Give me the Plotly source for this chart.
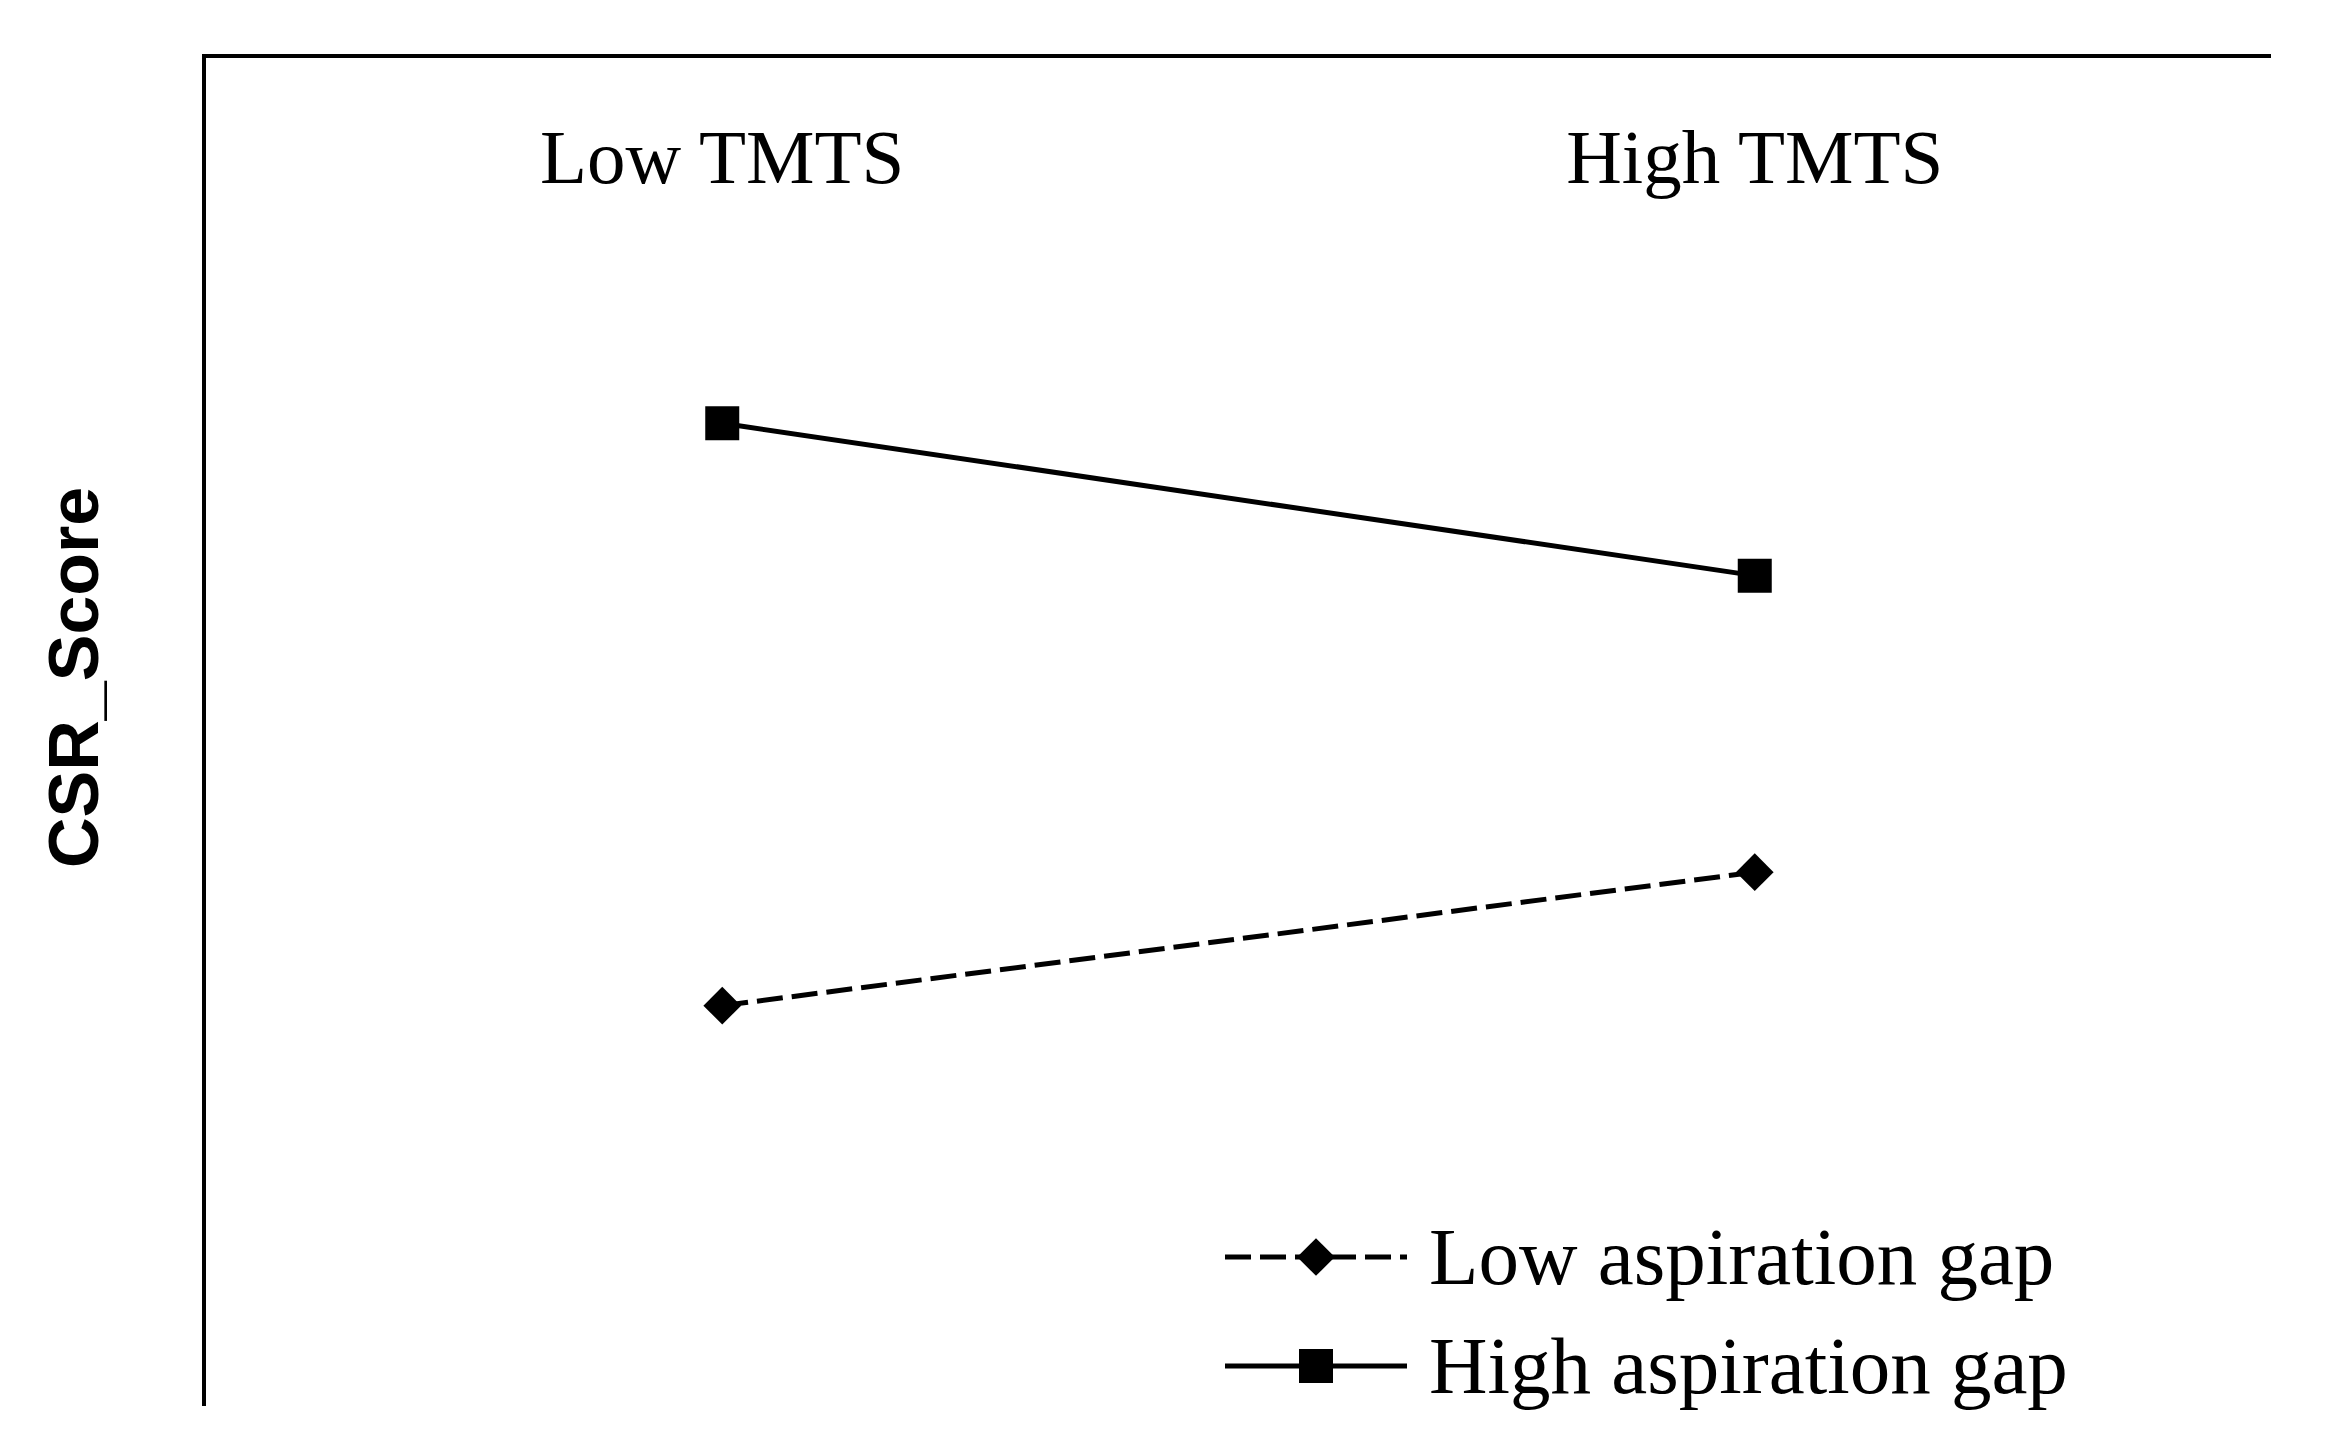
import plotly.graph_objects as go

categories = ["Low TMTS", "High TMTS"]
x_pos = [0, 1]
series_names = ["Low aspiration gap", "High aspiration gap"]
low_gap_values = [2.97, 3.96]
high_gap_values = [7.29, 6.16]
y_title = "CSR_Score"

W, H = 2326, 1439
L, R, T, B = 198, 63, 50, 41
PW, PH = W - L - R, H - T - B


def px(xp):
    return (xp - L) / PW


def py(yp):
    return (H - B - yp) / PH


styles = [
    dict(line=dict(color="black", width=5, dash="26px,9px"),
         marker=dict(symbol="diamond", size=29, color="black")),
    dict(line=dict(color="black", width=5),
         marker=dict(symbol="square", size=34, color="black")),
]

fig = go.Figure()
for name, vals, st in zip(series_names, [low_gap_values, high_gap_values], styles):
    fig.add_trace(go.Scatter(
        x=x_pos, y=vals, name=name, mode="lines+markers",
        line=st["line"], marker=st["marker"], showlegend=False,
    ))

# custom legend (sample lines drawn on an invisible overlay axis in paper units)
leg_rows_y = [1249, 1358]
leg_x0, leg_x1, leg_text_x = 1217, 1399, 1419
annotations = []
for name, st, ry in zip(series_names, styles, leg_rows_y):
    fig.add_trace(go.Scatter(
        x=[px(leg_x0), px(leg_x1)], y=[py(ry), py(ry)], mode="lines",
        line=st["line"], xaxis="x2", yaxis="y2", showlegend=False, hoverinfo="skip",
    ))
    fig.add_trace(go.Scatter(
        x=[px((leg_x0 + leg_x1) / 2)], y=[py(ry)], mode="markers",
        marker=st["marker"], xaxis="x2", yaxis="y2", showlegend=False, hoverinfo="skip",
    ))
    annotations.append(dict(
        text=name, xref="paper", yref="paper", x=px(leg_text_x), y=py(ry),
        xanchor="left", yanchor="middle", showarrow=False,
        font=dict(family="Liberation Serif", size=81, color="black"),
    ))

annotations.append(dict(
    text="<b>" + y_title + "</b>", textangle=-90,
    xref="paper", yref="paper",
    x=px(66), y=py(670),
    xanchor="center", yanchor="middle", showarrow=False,
    font=dict(family="Liberation Sans", size=70, color="black"),
))

fig.update_layout(
    width=W, height=H,
    margin=dict(l=L, r=R, t=T, b=B),
    paper_bgcolor="white", plot_bgcolor="white",
    font=dict(family="Liberation Serif", color="black"),
    showlegend=False,
    xaxis=dict(
        range=[-0.5, 1.5], side="top",
        tickvals=x_pos, ticktext=categories,
        ticklabelposition="inside", ticks="",
        ticklabelstandoff=84,
        tickfont=dict(family="Liberation Serif", size=77, color="black"),
        showline=True, linecolor="black", linewidth=4,
        showgrid=False, zeroline=False, mirror=False,
    ),
    yaxis=dict(
        range=[0, 10],
        showticklabels=False, ticks="",
        showline=True, linecolor="black", linewidth=4,
        showgrid=False, zeroline=False, mirror=False,
    ),
    xaxis2=dict(range=[0, 1], overlaying="x", visible=False, fixedrange=True),
    yaxis2=dict(range=[0, 1], overlaying="y", visible=False, fixedrange=True),
    annotations=annotations,
)

fig.write_html("out.html")
